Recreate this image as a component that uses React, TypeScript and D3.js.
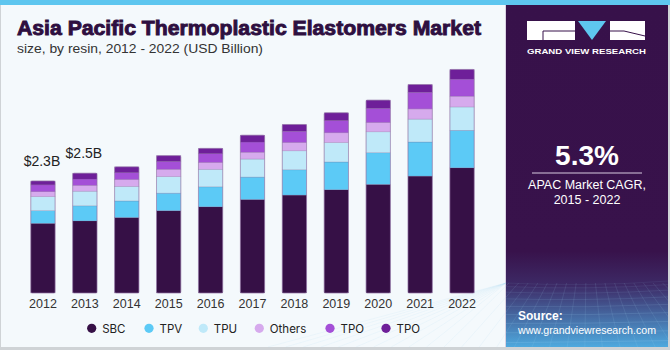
import * as d3 from "d3";
import React, { useEffect, useRef } from "react";

// values (USD Billion)
const years = ["2012", "2013", "2014", "2015", "2016", "2017", "2018", "2019", "2020", "2021", "2022"];
const sbc = [1.43, 1.48, 1.55, 1.69, 1.77, 1.92, 2.01, 2.12, 2.23, 2.4, 2.57];
const tpv = [0.26, 0.31, 0.34, 0.36, 0.41, 0.46, 0.52, 0.57, 0.65, 0.7, 0.77];
const tpu = [0.29, 0.3, 0.3, 0.34, 0.36, 0.37, 0.39, 0.4, 0.43, 0.47, 0.48];
const others = [0.1, 0.12, 0.14, 0.15, 0.14, 0.14, 0.17, 0.2, 0.19, 0.21, 0.22];
const tpo = [0.14, 0.13, 0.14, 0.16, 0.18, 0.21, 0.23, 0.25, 0.29, 0.34, 0.35];
const tpo2 = [0.08, 0.12, 0.12, 0.12, 0.11, 0.14, 0.14, 0.16, 0.17, 0.16, 0.2];

const seriesKeys = ["sbc", "tpv", "tpu", "others", "tpo", "tpo2"];
const seriesLabels = ["SBC", "TPV", "TPU", "Others", "TPO", "TPO"];
const seriesColors = ["#361046", "#5ccaf6", "#bfe9f9", "#d6aaed", "#a44fd7", "#6e1f99"];

const labelYears = ["2012", "2013"];
const labelTexts = ["$2.3B", "$2.5B"];

const W = 670;
const H = 350;

export default function App() {
  const ref = useRef<SVGSVGElement>(null);

  useEffect(() => {
    const svg = d3.select(ref.current);
    svg.selectAll("*").remove();

    const rows: any[] = years.map((y, i) => ({
      year: y,
      sbc: sbc[i],
      tpv: tpv[i],
      tpu: tpu[i],
      others: others[i],
      tpo: tpo[i],
      tpo2: tpo2[i],
    }));

    const defs = svg.append("defs");
    const grad = defs
      .append("linearGradient")
      .attr("id", "panelGrad")
      .attr("x1", 0)
      .attr("y1", 0)
      .attr("x2", 0)
      .attr("y2", 1);
    grad.append("stop").attr("offset", "0%").attr("stop-color", "#37114a");
    grad.append("stop").attr("offset", "72%").attr("stop-color", "#38124b");
    grad.append("stop").attr("offset", "82%").attr("stop-color", "#3d2a66");
    grad.append("stop").attr("offset", "100%").attr("stop-color", "#4ea9de");

    // background + frame
    svg.append("rect").attr("width", W).attr("height", H).attr("fill", "#cfd3d6");
    svg.append("rect").attr("x", 1).attr("y", 0).attr("width", W - 3).attr("height", H - 3).attr("fill", "#f4f9fc");
    svg.append("rect").attr("width", W).attr("height", 5).attr("fill", "#5ec6ef");

    // right panel
    const panel = svg.append("g");
    panel
      .append("rect")
      .attr("x", 505)
      .attr("y", 5)
      .attr("width", 1)
      .attr("height", H - 8)
      .attr("fill", "#d9d2e2");
    panel
      .append("rect")
      .attr("x", 506)
      .attr("y", 5)
      .attr("width", 162)
      .attr("height", H - 8)
      .attr("fill", "url(#panelGrad)");

    // grid texture at the bottom of the panel
    const tex = panel.append("g").attr("stroke", "#9fd4f2").attr("stroke-width", 0.6).attr("fill", "none");
    d3.range(0, 12).forEach((i) => {
      const y = 283 + Math.pow(i, 1.35) * 3.6;
      tex
        .append("path")
        .attr("d", `M506,${y} Q587,${y + 4 - i * 0.6} 668,${y - 2}`)
        .attr("opacity", 0.12 + i * 0.025);
    });
    d3.range(-8, 20).forEach((i) => {
      const x0 = 506 + i * 8;
      tex
        .append("line")
        .attr("x1", Math.max(506, Math.min(668, x0 + (x0 - 587) * 0.2)))
        .attr("y1", 283)
        .attr("x2", x0 + (x0 - 587) * 1.2)
        .attr("y2", 347)
        .attr("opacity", 0.2);
    });

    // logo
    const logo = panel.append("g");
    logo.append("rect").attr("x", 527).attr("y", 21).attr("width", 48).attr("height", 19).attr("fill", "#fff");
    logo
      .append("path")
      .attr("d", "M543,40 V31 H575")
      .attr("stroke", "#37114a")
      .attr("stroke-width", 1)
      .attr("fill", "none");
    logo.append("path").attr("d", "M578,21 H606 L592,40 Z").attr("fill", "#5ec6ef");
    logo.append("rect").attr("x", 610).attr("y", 21).attr("width", 35).attr("height", 19).attr("fill", "#fff");
    logo
      .append("path")
      .attr("d", "M610,31 H624 L645,36")
      .attr("stroke", "#37114a")
      .attr("stroke-width", 1)
      .attr("fill", "none");
    logo
      .append("text")
      .attr("x", 527)
      .attr("y", 53.5)
      .attr("textLength", 119)
      .attr("lengthAdjust", "spacingAndGlyphs")
      .attr("font-family", "Liberation Sans, Arial, sans-serif")
      .attr("font-weight", 700)
      .attr("font-size", "8px")
      .attr("fill", "#fff")
      .text("GRAND VIEW RESEARCH");

    panel
      .append("text")
      .attr("x", 587)
      .attr("y", 165)
      .attr("text-anchor", "middle")
      .attr("font-family", "Liberation Sans, Arial, sans-serif")
      .attr("font-weight", 700)
      .attr("font-size", "28px")
      .attr("fill", "#fff")
      .text("5.3%");
    panel
      .append("line")
      .attr("x1", 532)
      .attr("x2", 642)
      .attr("y1", 173)
      .attr("y2", 173)
      .attr("stroke", "#d8cbe0")
      .attr("stroke-width", 1);
    panel
      .append("text")
      .attr("x", 587)
      .attr("y", 189)
      .attr("text-anchor", "middle")
      .attr("font-family", "Liberation Sans, Arial, sans-serif")
      .attr("font-size", "12.5px")
      .attr("fill", "#fff")
      .text("APAC Market CAGR,");
    panel
      .append("text")
      .attr("x", 587)
      .attr("y", 203.5)
      .attr("text-anchor", "middle")
      .attr("font-family", "Liberation Sans, Arial, sans-serif")
      .attr("font-size", "12.5px")
      .attr("fill", "#fff")
      .text("2015 - 2022");
    panel
      .append("text")
      .attr("x", 518)
      .attr("y", 320)
      .attr("font-family", "Liberation Sans, Arial, sans-serif")
      .attr("font-weight", 700)
      .attr("font-size", "12px")
      .attr("fill", "#fff")
      .text("Source:");
    panel
      .append("text")
      .attr("x", 518)
      .attr("y", 333.5)
      .attr("textLength", 138)
      .attr("lengthAdjust", "spacingAndGlyphs")
      .attr("font-family", "Liberation Sans, Arial, sans-serif")
      .attr("font-size", "11px")
      .attr("fill", "#fff")
      .text("www.grandviewresearch.com");

    // titles
    svg
      .append("text")
      .attr("x", 17)
      .attr("y", 34.5)
      .attr("textLength", 464)
      .attr("lengthAdjust", "spacingAndGlyphs")
      .attr("font-family", "Liberation Sans, Arial, sans-serif")
      .attr("font-weight", 900)
      .attr("font-size", "20px")
      .attr("fill", "#2e0f40")
      .attr("stroke", "#2e0f40")
      .attr("stroke-width", 0.9)
      .text("Asia Pacific Thermoplastic Elastomers Market");
    svg
      .append("text")
      .attr("x", 17)
      .attr("y", 52.5)
      .attr("textLength", 246)
      .attr("lengthAdjust", "spacingAndGlyphs")
      .attr("font-family", "Liberation Sans, Arial, sans-serif")
      .attr("font-size", "13px")
      .attr("fill", "#333")
      .text("size, by resin, 2012 - 2022 (USD Billion)");

    // scales
    const xScale = d3.scaleBand().domain(years).range([22, 483]).paddingInner(0.42).paddingOuter(0.21);
    const yScale = d3.scaleLinear().domain([0, 4.8]).range([293, 59.2]);
    const color = d3.scaleOrdinal<string, string>().domain(seriesKeys).range(seriesColors);

    const stacked = d3.stack().keys(seriesKeys)(rows);

    const main = svg.append("g");
    main
      .selectAll(".serie")
      .data(stacked)
      .enter()
      .append("g")
      .attr("class", "serie")
      .attr("fill", (d) => color(d.key))
      .selectAll("rect")
      .data((d) => d)
      .enter()
      .append("rect")
      .attr("x", (d: any) => xScale(d.data.year)!)
      .attr("width", xScale.bandwidth())
      .attr("y", (d) => yScale(d[1]))
      .attr("height", (d) => yScale(d[0]) - yScale(d[1]))
      .attr("stroke", "rgba(120,90,140,0.35)")
      .attr("stroke-width", 0.6);

    // outline per bar
    main
      .selectAll(".outline")
      .data(rows)
      .enter()
      .append("rect")
      .attr("class", "outline")
      .attr("x", (d) => xScale(d.year)!)
      .attr("width", xScale.bandwidth())
      .attr("y", (d) => yScale(d3.sum(seriesKeys, (k) => d[k])))
      .attr("height", (d) => yScale(0) - yScale(d3.sum(seriesKeys, (k) => d[k])))
      .attr("rx", 1.5)
      .attr("fill", "none")
      .attr("stroke", "rgba(150,120,170,0.7)")
      .attr("stroke-width", 0.8);

    // value labels
    main
      .selectAll(".vlabel")
      .data(labelYears)
      .enter()
      .append("text")
      .attr("class", "vlabel")
      .attr("x", (d) => xScale(d)! + xScale.bandwidth() / 2 - 1)
      .attr("y", (d) => {
        const r = rows[years.indexOf(d)];
        return yScale(d3.sum(seriesKeys, (k) => r[k])) - 15;
      })
      .attr("text-anchor", "middle")
      .attr("font-family", "Liberation Sans, Arial, sans-serif")
      .attr("font-size", "14px")
      .attr("fill", "#222")
      .text((d, i) => labelTexts[i]);

    // x axis labels (no line)
    const xAxis = d3.axisBottom(xScale).tickSize(0).tickPadding(0);
    const ax = main.append("g").attr("transform", `translate(0,${296})`).call(xAxis);
    ax.select(".domain").remove();
    ax.selectAll("text")
      .attr("dy", "0.71em")
      .attr("y", 3)
      .attr("font-family", "Liberation Sans, Arial, sans-serif")
      .attr("font-size", "12.5px")
      .attr("fill", "#333");

    // legend
    const legendX = [91.7, 149, 203.3, 259.3, 330, 386];
    const legend = svg
      .append("g")
      .selectAll(".leg")
      .data(seriesKeys)
      .enter()
      .append("g")
      .attr("class", "leg")
      .attr("transform", (d, i) => `translate(${legendX[i]},328.3)`);
    legend.append("circle").attr("r", 4.6).attr("fill", (d) => color(d));
    legend
      .append("text")
      .attr("x", 10.5)
      .attr("y", 4.2)
      .attr("font-family", "Inter, Roboto, sans-serif")
      .attr("font-size", "11.5px")
      .attr("fill", "#222")
      .text((d, i) => seriesLabels[i]);
  }, []);

  return (
    <div style={{ position: "absolute", left: 0, top: 0 }}>
      <svg ref={ref} width={W} height={H} style={{ display: "block" }} />
    </div>
  );
}
